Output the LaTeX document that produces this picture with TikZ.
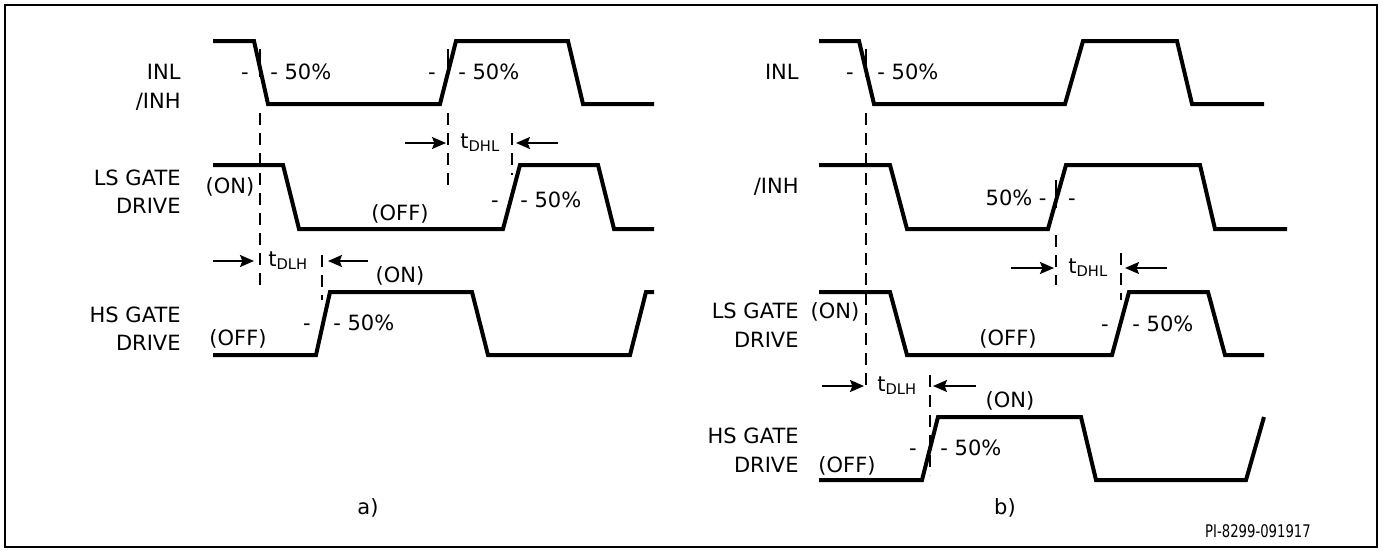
\documentclass[tikz,border=0pt]{standalone}
\usepackage{fontspec}
\setmainfont{DejaVu Sans}
\newfontfamily\narrowfont{DejaVu Sans}[FakeStretch=0.76]
\usetikzlibrary{arrows.meta}

\begin{document}
\begin{tikzpicture}[x=0.5pt,y=-0.5pt,
        wave/.style={line width=2pt,line join=miter},
        boxline/.style={line width=1pt},
        guide/.style={line width=0.8pt,dash pattern=on 6pt off 4pt},
        tick50/.style={line width=0.8pt},
        txt/.style={inner sep=0pt,font=\fontsize{10.5}{12}\selectfont},
        sig/.style={txt,anchor=base east},
        lbl/.style={txt,anchor=base},
        pct/.style={txt,anchor=base west},
        dly/.style={line width=1pt,-{Stealth[length=7pt,width=6pt,inset=1.2pt]}}]
        \useasboundingbox (0,0) rectangle (1383,552);
        \draw[boxline] (5,5) rectangle (1377,547);

        % a) waveforms
        \draw[wave] (213,41) -- (254,41) -- (268,104) -- (440,104) -- (456,41) -- (568,41) -- (583,104) -- (654,104);
        \draw[wave] (213,165) -- (283,165) -- (299,229) -- (503,229) -- (520,165) -- (598,165) -- (614,229) -- (654,229);
        \draw[wave] (213,355) -- (316,355) -- (330,292) -- (472,292) -- (488,355) -- (630,355) -- (646,292) -- (654,292);
        \node[sig] (inlA) at (181,79) {INL};
        \node[sig] (inhA) at (181,108) {/INH};
        \node[sig] (lsA) at (181,185) {LS GATE};
        \node[sig] (lsdA) at (181,213) {DRIVE};
        \node[sig] (hsA) at (181,322) {HS GATE};
        \node[sig] (hsdA) at (181,350) {DRIVE};

        % a) guides and 50% marks
        \draw[tick50] (260,49) -- (260,77);
        \draw[guide] (260,113) -- (260,285);
        \draw[tick50] (448,49) -- (448,77);
        \draw[guide] (448,113) -- (448,192);
        \draw[guide] (512,133) -- (512,175);
        \draw[guide] (322,255) -- (322,300);
        \node[lbl] (m1a) at (245,79) {-};
        \node[pct] (p1a) at (270,79) {- 50\%};
        \node[lbl] (m2a) at (432,79) {-};
        \node[pct] (p2a) at (458,79) {- 50\%};
        \node[lbl] (m3a) at (495,207) {-};
        \node[pct] (p3a) at (520,207) {- 50\%};
        \node[lbl] (m4a) at (307,330) {-};
        \node[pct] (p4a) at (333,330) {- 50\%};
        \node[lbl] (onLa) at (230,193) {(ON)};
        \node[lbl] (offLa) at (400,220) {(OFF)};
        \node[lbl] (onHa) at (400,282) {(ON)};
        \node[lbl] (offHa) at (238,345) {(OFF)};

        % a) delays
        \coordinate (dhlA1) at (405,143);
        \coordinate (dhlA2) at (446,143);
        \coordinate (dhlA3) at (558,143);
        \coordinate (dhlA4) at (516,143);
        \draw[dly] (dhlA1) -- (dhlA2);
        \draw[dly] (dhlA3) -- (dhlA4);
        \node[pct] (tdhlA) at (460,148) {t\textsubscript{DHL}};
        \coordinate (dlhA1) at (213,261);
        \coordinate (dlhA2) at (254,261);
        \coordinate (dlhA3) at (368,261);
        \coordinate (dlhA4) at (328,261);
        \draw[dly] (dlhA1) -- (dlhA2);
        \draw[dly] (dlhA3) -- (dlhA4);
        \node[pct] (tdlhA) at (268,266) {t\textsubscript{DLH}};
        \node[lbl] (capA) at (368,514) {a)};

        % b) waveforms
        \draw[wave] (819,41) -- (859,41) -- (874,104) -- (1065,104) -- (1083,41) -- (1177,41) -- (1192,104) -- (1264,104);
        \draw[wave] (819,165) -- (890,165) -- (907,229) -- (1048,229) -- (1066,165) -- (1200,165) -- (1215,229) -- (1287,229);
        \draw[wave] (819,292) -- (890,292) -- (907,355) -- (1112,355) -- (1129,292) -- (1208,292) -- (1225,355) -- (1264,355);
        \draw[wave] (819,480) -- (922,480) -- (938,417) -- (1081,417) -- (1096,480) -- (1246,480) -- (1264,417);
        \node[sig] (inlB) at (799,79) {INL};
        \node[sig] (inhB) at (799,193) {/INH};
        \node[sig] (lsB) at (799,318) {LS GATE};
        \node[sig] (lsdB) at (799,347) {DRIVE};
        \node[sig] (hsB) at (799,443) {HS GATE};
        \node[sig] (hsdB) at (799,472) {DRIVE};

        % b) guides and 50% marks
        \draw[tick50] (866,49) -- (866,77);
        \draw[guide] (866,113) -- (866,392);
        \draw[tick50] (1056,180) -- (1056,208);
        \draw[guide] (1056,235) -- (1056,285);
        \draw[guide] (1121,253) -- (1121,300);
        \draw[guide] (930,375) -- (930,475);
        \node[lbl] (m1b) at (850,79) {-};
        \node[pct] (p1b) at (877,79) {- 50\%};
        \node[txt,anchor=base east] (p2b) at (1047,205) {50\% -};
        \node[lbl] (m2b) at (1072,205) {-};
        \node[lbl] (m3b) at (1105,331) {-};
        \node[pct] (p3b) at (1132,331) {- 50\%};
        \node[lbl] (m4b) at (913,455) {-};
        \node[pct] (p4b) at (940,455) {- 50\%};
        \node[lbl] (onLb) at (835,318) {(ON)};
        \node[lbl] (offLb) at (1008,345) {(OFF)};
        \node[lbl] (onHb) at (1010,407) {(ON)};
        \node[lbl] (offHb) at (847,472) {(OFF)};

        % b) delays
        \coordinate (dhlB1) at (1011,268);
        \coordinate (dhlB2) at (1054,268);
        \coordinate (dhlB3) at (1167,268);
        \coordinate (dhlB4) at (1125,268);
        \draw[dly] (dhlB1) -- (dhlB2);
        \draw[dly] (dhlB3) -- (dhlB4);
        \node[pct] (tdhlB) at (1068,273) {t\textsubscript{DHL}};
        \coordinate (dlhB1) at (822,386);
        \coordinate (dlhB2) at (864,386);
        \coordinate (dlhB3) at (976,386);
        \coordinate (dlhB4) at (933,386);
        \draw[dly] (dlhB1) -- (dlhB2);
        \draw[dly] (dlhB3) -- (dlhB4);
        \node[pct] (tdlhB) at (877,391) {t\textsubscript{DLH}};
        \node[lbl] (capB) at (1005,514) {b)};
        \node[inner sep=0pt,anchor=base,font=\narrowfont\fontsize{8.7}{10}\selectfont] (pinum) at (1258,537) {PI-8299-091917};
    \end{tikzpicture}
\end{document}
